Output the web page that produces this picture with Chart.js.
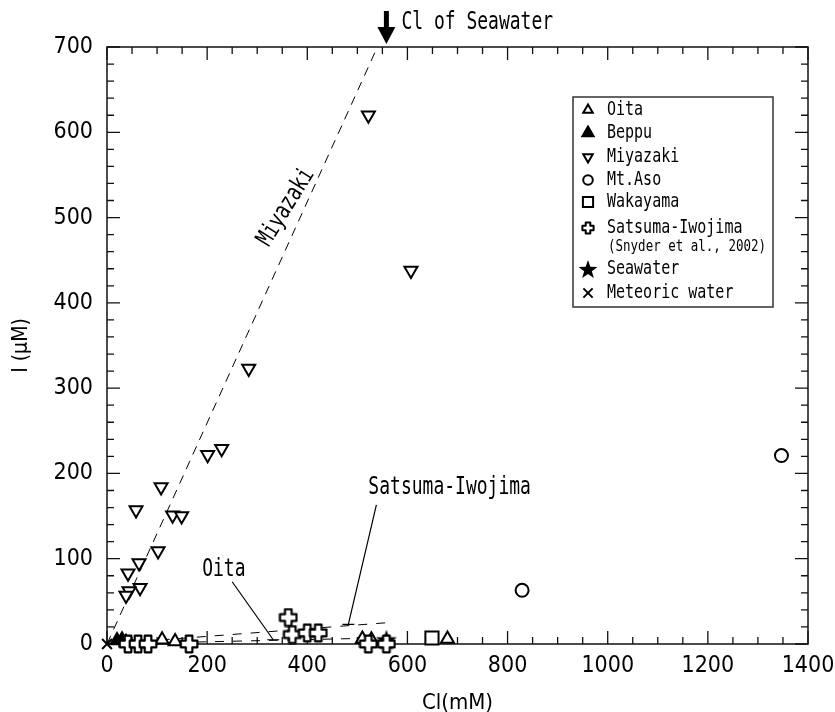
<!DOCTYPE html>
<html><head><meta charset="utf-8">
<script src="https://cdn.jsdelivr.net/npm/chart.js@4/dist/chart.umd.min.js"></script>
<style>html,body{margin:0;padding:0;background:#fff}#wrap{width:835px;height:712px}</style>
</head><body><div id="wrap"><canvas id="c" width="835" height="712"></canvas></div>
<script>
// ---- data (Cl in mM, I in µM) ----
const oitaCl = [110, 136, 510, 528, 680];
const oitaI  = [5, 3, 6, 5, 6];
const beppuCl = [20, 30, 38];
const beppuI  = [4, 5, 2];
const miyazakiCl = [522, 607, 283, 201, 229, 108, 58, 131, 149, 102, 64, 42, 66, 44, 38];
const miyazakiI  = [620, 438, 323, 222, 229, 184, 157, 151, 150, 109, 95, 83, 66, 62, 57];
const asoCl = [829, 1347];
const asoI  = [63, 221];
const wakayamaCl = [649];
const wakayamaI  = [7];
const satsumaCl = [42, 62, 82, 164, 362, 370, 400, 422, 522, 558];
const satsumaI  = [0, 0, 0, 0, 31, 11, 13, 13, 0, 0];
const seawaterCl = [558];
const seawaterI  = [5];
const meteoricCl = [0];
const meteoricI  = [0];
const trendMiyazakiCl = [0, 540];
const trendMiyazakiI  = [0, 700];
const trendSatsumaCl = [0, 560];
const trendSatsumaI  = [0, 25];
const trendOitaCl = [0, 540];
const trendOitaI  = [0, 7];
const seriesNames = ['Oita', 'Beppu', 'Miyazaki', 'Mt.Aso', 'Wakayama', 'Satsuma-Iwojima', 'Seawater', 'Meteoric water'];
const satsumaRef = '(Snyder et al., 2002)';
const xAxisTitle = 'Cl(mM)';
const yAxisTitle = 'I (\u03BCM)';
const xMin = 0, xMax = 1400, xStep = 200, xMinor = 50;
const yMin = 0, yMax = 700, yStep = 100, yMinor = 20;

const pts = (xs, ys) => xs.map((x, i) => ({x: x, y: ys[i]}));

// ---- marker images ----
function makePlus(size, a, b, lw) {
  const cv = document.createElement('canvas'); cv.width = size; cv.height = size;
  const g = cv.getContext('2d'); const c = size / 2;
  const P = [[c-a,c-b],[c+a,c-b],[c+a,c-a],[c+b,c-a],[c+b,c+a],[c+a,c+a],[c+a,c+b],[c-a,c+b],[c-a,c+a],[c-b,c+a],[c-b,c-a],[c-a,c-a]];
  g.beginPath(); P.forEach((p, i) => i ? g.lineTo(p[0], p[1]) : g.moveTo(p[0], p[1])); g.closePath();
  g.fillStyle = '#fff'; g.fill(); g.lineWidth = lw; g.lineJoin = 'round'; g.strokeStyle = '#000'; g.stroke();
  return cv;
}
function makeStar(size, ro, ri) {
  const cv = document.createElement('canvas'); cv.width = size; cv.height = size;
  const g = cv.getContext('2d'); const c = size / 2;
  g.beginPath();
  for (let i = 0; i < 10; i++) {
    const r = i % 2 ? ri : ro; const ang = -Math.PI / 2 + i * Math.PI / 5;
    const px = c + r * Math.cos(ang), py = c + 1 + r * Math.sin(ang);
    i ? g.lineTo(px, py) : g.moveTo(px, py);
  }
  g.closePath(); g.fillStyle = '#000'; g.fill();
  return cv;
}
const plusImg = makePlus(20, 3.3, 8.3, 2.2);
const plusImgSmall = makePlus(14, 2.3, 5.6, 2);
const starImg = makeStar(24, 11, 4.4);
const starImgSmall = makeStar(22, 10, 4);

function txt(ctx, s, x, y, size, sy, align, rot, family) {
  ctx.save(); ctx.translate(x, y); if (rot) ctx.rotate(rot); ctx.scale(1, sy);
  ctx.font = size + 'px ' + (family || '"DejaVu Sans Mono", "Liberation Mono", monospace');
  ctx.textAlign = align || 'left'; ctx.textBaseline = 'middle'; ctx.fillStyle = '#000';
  ctx.fillText(s, 0, 0); ctx.restore();
}

const frameTicks = {
  id: 'frameTicks',
  beforeDatasetsDraw(chart) {
    const {ctx, chartArea: a, scales: {x, y}} = chart;
    ctx.save(); ctx.strokeStyle = '#111'; ctx.lineWidth = 1.5;
    ctx.strokeRect(a.left, a.top, a.right - a.left, a.bottom - a.top);
    ctx.lineWidth = 1.3;
    for (let v = xMin; v <= xMax + 1e-9; v += xMinor) {
      const px = x.getPixelForValue(v); const L = (v % xStep === 0) ? 13 : 7;
      ctx.beginPath(); ctx.moveTo(px, a.bottom); ctx.lineTo(px, a.bottom - L);
      ctx.moveTo(px, a.top); ctx.lineTo(px, a.top + L); ctx.stroke();
    }
    for (let v = yMin; v <= yMax + 1e-9; v += yMinor) {
      const py = y.getPixelForValue(v); const L = (v % yStep === 0) ? 13 : 7;
      ctx.beginPath(); ctx.moveTo(a.left, py); ctx.lineTo(a.left + L, py);
      ctx.moveTo(a.right, py); ctx.lineTo(a.right - L, py); ctx.stroke();
    }
    ctx.restore();
  },
  afterDatasetsDraw(chart) {
    const {ctx, chartArea: a, scales: {x, y}} = chart;
    // seawater arrow + label
    const sx = x.getPixelForValue(seawaterCl[0]);
    ctx.save(); ctx.fillStyle = '#000';
    ctx.fillRect(sx - 2.5, 11, 5, 18);
    ctx.beginPath(); ctx.moveTo(sx - 9, 27); ctx.lineTo(sx + 9, 27); ctx.lineTo(sx, 44); ctx.closePath(); ctx.fill();
    ctx.restore();
    txt(ctx, 'Cl of Seawater', sx + 15, 22, 18, 1.4);
    // Miyazaki label
    txt(ctx, 'Miyazaki', x.getPixelForValue(358), y.getPixelForValue(512), 18, 1.35, 'center', -58 * Math.PI / 180);
    // Oita label
    txt(ctx, 'Oita', x.getPixelForValue(190), y.getPixelForValue(87), 18, 1.35, 'left');
    // Satsuma label
    txt(ctx, 'Satsuma-Iwojima', x.getPixelForValue(522), y.getPixelForValue(183), 18, 1.35, 'left');
    ctx.save(); ctx.strokeStyle = '#000'; ctx.lineWidth = 1.2;
    const seg = (x1, y1, x2, y2) => {
      const p1 = [x.getPixelForValue(x1), y.getPixelForValue(y1)], p2 = [x.getPixelForValue(x2), y.getPixelForValue(y2)];
      ctx.beginPath(); ctx.moveTo(p1[0], p1[1]); ctx.lineTo(p2[0], p2[1]);
      ctx.moveTo(p2[0] - 6, p2[1]); ctx.lineTo(p2[0] + 6, p2[1]); ctx.stroke();
    };
    seg(250, 73, 332, 5);
    seg(538, 163, 482, 23);
    ctx.restore();
    // legend
    const L = {left: 573, top: 97, right: 773, bottom: 307};
    ctx.save(); ctx.fillStyle = '#fff'; ctx.fillRect(L.left, L.top, L.right - L.left, L.bottom - L.top);
    ctx.strokeStyle = '#333'; ctx.lineWidth = 1.5; ctx.strokeRect(L.left, L.top, L.right - L.left, L.bottom - L.top);
    ctx.restore();
    const rows = [110, 133, 157, 180, 202, 228, 269, 293];
    const mk = [
      {pointStyle: 'triangle', radius: 5.5, rotation: 0, fill: '#fff'},
      {pointStyle: 'triangle', radius: 6.5, rotation: 0, fill: '#000'},
      {pointStyle: 'triangle', radius: 5.5, rotation: 180, fill: '#fff'},
      {pointStyle: 'circle', radius: 4.8, rotation: 0, fill: '#fff'},
      {pointStyle: 'rect', radius: 7.2, rotation: 0, fill: '#fff'},
      {pointStyle: plusImgSmall, radius: 6, rotation: 0},
      {pointStyle: starImgSmall, radius: 9, rotation: 0},
      {pointStyle: 'crossRot', radius: 6.5, rotation: 0, fill: '#fff'}
    ];
    seriesNames.forEach((n, i) => {
      const m = mk[i];
      ctx.save(); ctx.fillStyle = m.fill || '#000'; ctx.strokeStyle = '#000'; ctx.lineWidth = 2;
      Chart.helpers.drawPoint(ctx, {pointStyle: m.pointStyle, radius: m.radius, rotation: m.rotation, borderWidth: 2}, 588, rows[i]);
      ctx.restore();
      txt(ctx, n, 607, rows[i], 15, 1.25, 'left');
    });
    txt(ctx, satsumaRef, 608, 247, 12.5, 1.2, 'left');
  }
};

const tickFont = {family: '"Liberation Sans Narrow", "Arial Narrow", "DejaVu Sans Condensed", sans-serif', size: 23};
const common = {showLine: false, clip: false, borderColor: '#000', pointBorderWidth: 2, order: 1};

new Chart(document.getElementById('c'), {
  type: 'scatter',
  data: {
    datasets: [
      {label: 'trendMiyazaki', data: pts(trendMiyazakiCl, trendMiyazakiI), showLine: true, borderColor: '#000', borderWidth: 1, borderDash: [9, 7], pointRadius: 0, order: 5},
      {label: 'trendSatsuma', data: pts(trendSatsumaCl, trendSatsumaI), showLine: true, borderColor: '#000', borderWidth: 1, borderDash: [9, 9], pointRadius: 0, order: 5},
      {label: 'trendOita', data: pts(trendOitaCl, trendOitaI), showLine: true, borderColor: '#000', borderWidth: 1, borderDash: [9, 9], pointRadius: 0, order: 5},
      Object.assign({label: seriesNames[5], data: pts(satsumaCl, satsumaI), pointStyle: plusImg, pointRadius: 9}, common),
      Object.assign({label: seriesNames[0], data: pts(oitaCl, oitaI), pointStyle: 'triangle', pointRadius: 7.5, backgroundColor: '#fff'}, common),
      Object.assign({label: seriesNames[1], data: pts(beppuCl, beppuI), pointStyle: 'triangle', pointRadius: 7.5, backgroundColor: '#000'}, common),
      Object.assign({label: seriesNames[2], data: pts(miyazakiCl, miyazakiI), pointStyle: 'triangle', rotation: 180, pointRadius: 7.5, backgroundColor: '#fff'}, common),
      Object.assign({label: seriesNames[3], data: pts(asoCl, asoI), pointStyle: 'circle', pointRadius: 6.5, backgroundColor: '#fff'}, common),
      Object.assign({label: seriesNames[4], data: pts(wakayamaCl, wakayamaI), pointStyle: 'rect', pointRadius: 9.3, backgroundColor: '#fff'}, common),
      Object.assign({label: seriesNames[6], data: pts(seawaterCl, seawaterI), pointStyle: starImg, pointRadius: 11}, common),
      Object.assign({label: seriesNames[7], data: pts(meteoricCl, meteoricI), pointStyle: 'crossRot', pointRadius: 7, backgroundColor: '#fff'}, common)
    ]
  },
  options: {
    responsive: false, animation: false, devicePixelRatio: 1,
    layout: {padding: {top: 47, right: 27, bottom: 0, left: 0}},
    plugins: {legend: {display: false}, tooltip: {enabled: false}},
    elements: {point: {hoverRadius: 0}},
    scales: {
      x: {type: 'linear', min: xMin, max: xMax,
          grid: {display: false, drawTicks: false}, border: {display: false},
          ticks: {stepSize: xStep, padding: 8, color: '#000', font: tickFont, maxRotation: 0, callback: v => String(v)},
          title: {display: true, text: xAxisTitle, color: '#000', font: {family: tickFont.family, size: 22}, padding: {top: 0, bottom: -4}},
          afterFit: s => { s.height = 68; s.paddingLeft = 0; s.paddingRight = 0; }},
      y: {type: 'linear', min: yMin, max: yMax,
          grid: {display: false, drawTicks: false}, border: {display: false},
          ticks: {stepSize: yStep, padding: 14, color: '#000', font: tickFont, callback: v => String(v)},
          title: {display: true, text: yAxisTitle, color: '#000', font: {family: tickFont.family, size: 21}, padding: {top: 9, bottom: 0}},
          afterFit: s => { s.width = 107; s.paddingTop = 0; s.paddingBottom = 0; }}
    }
  },
  plugins: [frameTicks]
});
</script></body></html>
